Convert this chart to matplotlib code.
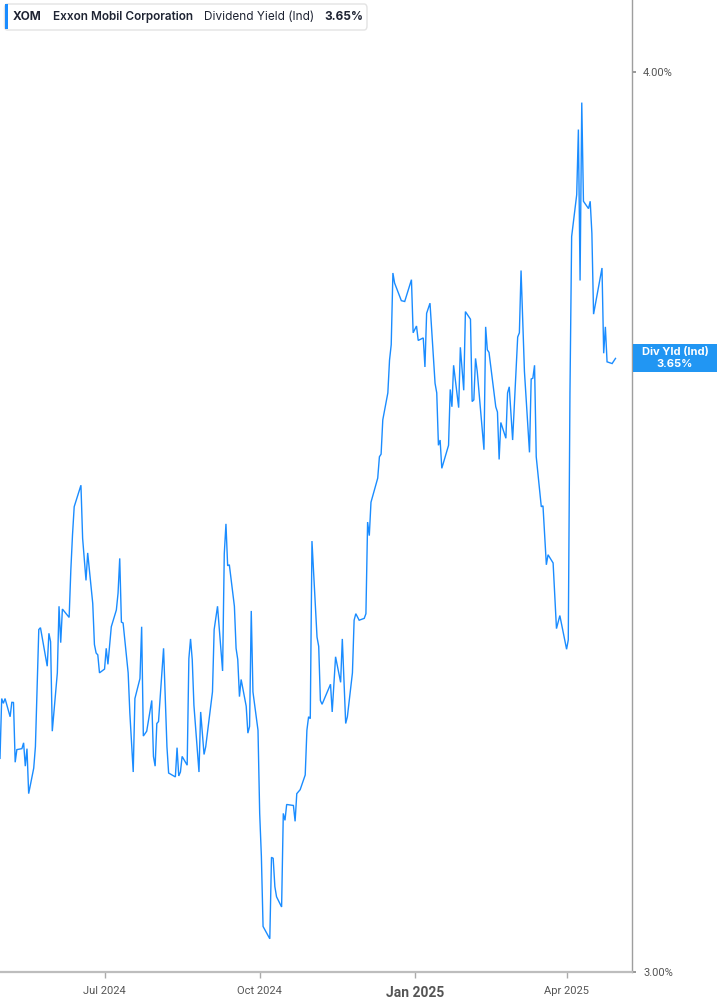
import matplotlib
matplotlib.use("Agg")
import matplotlib.pyplot as plt
from matplotlib.patches import Rectangle, FancyBboxPatch
from matplotlib.ticker import FixedLocator, FuncFormatter, NullLocator
from matplotlib.transforms import IdentityTransform
import pandas as pd

ticker = "XOM"
company = "Exxon Mobil Corporation"
metric = "Dividend Yield (Ind)"
metric_short = "Div Yld (Ind)"
last_value = 3.65

dates = [
    "2024-04-30", "2024-05-01", "2024-05-02", "2024-05-03", "2024-05-06", "2024-05-07", "2024-05-08",
    "2024-05-09", "2024-05-10", "2024-05-13", "2024-05-14", "2024-05-15", "2024-05-16", "2024-05-17",
    "2024-05-20", "2024-05-21", "2024-05-23", "2024-05-24", "2024-05-28", "2024-05-29", "2024-05-30",
    "2024-05-31", "2024-06-03", "2024-06-04", "2024-06-05", "2024-06-06", "2024-06-10", "2024-06-11",
    "2024-06-12", "2024-06-13", "2024-06-17", "2024-06-18", "2024-06-20", "2024-06-21", "2024-06-24",
    "2024-06-25", "2024-06-26", "2024-06-27", "2024-06-28", "2024-07-01", "2024-07-02", "2024-07-03",
    "2024-07-05", "2024-07-08", "2024-07-09", "2024-07-10", "2024-07-11", "2024-07-12", "2024-07-15",
    "2024-07-16", "2024-07-18", "2024-07-19", "2024-07-22", "2024-07-23", "2024-07-24", "2024-07-26",
    "2024-07-29", "2024-07-30", "2024-07-31", "2024-08-01", "2024-08-02", "2024-08-05", "2024-08-07",
    "2024-08-08", "2024-08-12", "2024-08-13", "2024-08-14", "2024-08-15", "2024-08-16", "2024-08-19",
    "2024-08-20", "2024-08-21", "2024-08-22", "2024-08-23", "2024-08-26", "2024-08-27", "2024-08-29",
    "2024-08-30", "2024-09-03", "2024-09-04", "2024-09-06", "2024-09-09", "2024-09-10", "2024-09-11",
    "2024-09-12", "2024-09-13", "2024-09-16", "2024-09-17", "2024-09-18", "2024-09-19", "2024-09-20",
    "2024-09-23", "2024-09-24", "2024-09-25", "2024-09-26", "2024-09-27", "2024-09-30", "2024-10-01",
    "2024-10-02", "2024-10-03", "2024-10-07", "2024-10-08", "2024-10-09", "2024-10-10", "2024-10-11",
    "2024-10-14", "2024-10-15", "2024-10-16", "2024-10-17", "2024-10-21", "2024-10-22", "2024-10-23",
    "2024-10-25", "2024-10-28", "2024-10-29", "2024-10-30", "2024-10-31", "2024-11-01", "2024-11-04",
    "2024-11-05", "2024-11-06", "2024-11-07", "2024-11-11", "2024-11-12", "2024-11-13", "2024-11-15",
    "2024-11-18", "2024-11-19", "2024-11-21", "2024-11-22", "2024-11-25", "2024-11-26", "2024-11-27",
    "2024-11-29", "2024-12-02", "2024-12-03", "2024-12-04", "2024-12-05", "2024-12-06", "2024-12-10",
    "2024-12-11", "2024-12-12", "2024-12-13", "2024-12-16", "2024-12-17", "2024-12-18", "2024-12-19",
    "2024-12-20", "2024-12-23", "2024-12-24", "2024-12-26", "2024-12-30", "2024-12-31", "2025-01-02",
    "2025-01-03", "2025-01-06", "2025-01-07", "2025-01-08", "2025-01-10", "2025-01-13", "2025-01-14",
    "2025-01-15", "2025-01-16", "2025-01-17", "2025-01-21", "2025-01-22", "2025-01-23", "2025-01-24",
    "2025-01-27", "2025-01-28", "2025-01-30", "2025-01-31", "2025-02-03", "2025-02-04", "2025-02-05",
    "2025-02-06", "2025-02-07", "2025-02-11", "2025-02-12", "2025-02-13", "2025-02-14", "2025-02-18",
    "2025-02-19", "2025-02-20", "2025-02-21", "2025-02-24", "2025-02-25", "2025-02-26", "2025-02-28",
    "2025-03-03", "2025-03-04", "2025-03-05", "2025-03-07", "2025-03-10", "2025-03-11", "2025-03-12",
    "2025-03-13", "2025-03-14", "2025-03-17", "2025-03-18", "2025-03-20", "2025-03-21", "2025-03-24",
    "2025-03-26", "2025-03-28", "2025-04-01", "2025-04-02", "2025-04-03", "2025-04-04", "2025-04-07",
    "2025-04-08", "2025-04-09", "2025-04-10", "2025-04-11", "2025-04-14", "2025-04-15", "2025-04-16",
    "2025-04-17", "2025-04-22", "2025-04-23", "2025-04-24", "2025-04-25", "2025-04-28", "2025-04-30",
]

yield_pct = [
    3.212, 3.274, 3.269, 3.274, 3.255, 3.270, 3.270,
    3.208, 3.221, 3.222, 3.228, 3.204, 3.222, 3.176,
    3.202, 3.224, 3.347, 3.349, 3.308, 3.343, 3.334,
    3.240, 3.301, 3.372, 3.333, 3.369, 3.360, 3.411,
    3.450, 3.481, 3.505, 3.446, 3.400, 3.430, 3.375,
    3.331, 3.322, 3.320, 3.301, 3.305, 3.327, 3.310,
    3.350, 3.368, 3.386, 3.424, 3.355, 3.354, 3.301,
    3.259, 3.198, 3.274, 3.295, 3.350, 3.235, 3.240,
    3.272, 3.214, 3.204, 3.248, 3.250, 3.327, 3.224,
    3.197, 3.193, 3.223, 3.194, 3.198, 3.214, 3.205,
    3.316, 3.337, 3.315, 3.267, 3.198, 3.260, 3.216,
    3.224, 3.281, 3.347, 3.372, 3.303, 3.429, 3.462,
    3.416, 3.417, 3.372, 3.327, 3.315, 3.276, 3.294,
    3.266, 3.238, 3.245, 3.367, 3.281, 3.241, 3.156,
    3.113, 3.044, 3.032, 3.112, 3.111, 3.083, 3.073,
    3.063, 3.156, 3.149, 3.165, 3.164, 3.148, 3.176,
    3.180, 3.195, 3.241, 3.255, 3.253, 3.443, 3.339,
    3.329, 3.272, 3.268, 3.285, 3.289, 3.260, 3.318,
    3.291, 3.337, 3.248, 3.255, 3.301, 3.357, 3.364,
    3.357, 3.359, 3.364, 3.464, 3.449, 3.486, 3.513,
    3.537, 3.540, 3.579, 3.610, 3.648, 3.666, 3.751,
    3.739, 3.723, 3.718, 3.717, 3.743, 3.680, 3.688,
    3.671, 3.674, 3.640, 3.703, 3.715, 3.621, 3.610,
    3.550, 3.556, 3.524, 3.550, 3.614, 3.594, 3.642,
    3.593, 3.663, 3.613, 3.705, 3.696, 3.600, 3.602,
    3.650, 3.635, 3.545, 3.687, 3.660, 3.657, 3.594,
    3.588, 3.534, 3.576, 3.558, 3.610, 3.617, 3.556,
    3.675, 3.680, 3.754, 3.635, 3.542, 3.626, 3.627,
    3.642, 3.537, 3.481, 3.482, 3.417, 3.428, 3.419,
    3.348, 3.362, 3.326, 3.336, 3.610, 3.795, 3.846,
    3.927, 3.742, 3.961, 3.838, 3.829, 3.838, 3.799,
    3.702, 3.757, 3.656, 3.687, 3.646, 3.644, 3.650,
]

y_ticks = [3.0, 4.0]
x_tick_dates = ["2024-07-01", "2024-10-01", "2025-01-01", "2025-04-01"]
x_tick_labels = ["Jul 2024", "Oct 2024", "Jan 2025", "Apr 2025"]

W, H = 717, 1005
LINE = "#1a8cff"
TEXT = "#1f2433"
fig = plt.figure(figsize=(W / 100, H / 100), dpi=100)
fig.patch.set_facecolor("white")
ax = fig.add_axes([0, 33 / H, 632 / W, 1 - 33 / H])

d = pd.to_datetime(dates)
ax.plot(d, yield_pct, color=LINE, lw=1.0, solid_joinstyle="miter")

ax.set_yscale("log")
ax.set_ylim(3.0, 4.093)
ax.set_xlim(pd.Timestamp("2024-04-30"), pd.Timestamp("2025-05-09 19:00"))

ax.yaxis.set_major_locator(FixedLocator(y_ticks))
ax.yaxis.set_minor_locator(NullLocator())
ax.yaxis.set_major_formatter(FuncFormatter(lambda v, p: f"{v:.2f}%"))
ax.yaxis.tick_right()
ax.tick_params(axis="y", which="major", length=3, width=1.2, color="#888888",
               labelcolor="#555555", labelsize=8, pad=5)
for lbl in ax.get_yticklabels():
    lbl.set_fontfamily("Roboto")

xt = pd.to_datetime(x_tick_dates)
ax.set_xticks(xt)
ax.set_xticklabels(x_tick_labels)
ax.tick_params(axis="x", length=4, width=1, color="#aaaaaa", labelcolor="#555555",
               labelsize=8, pad=6)
for lbl in ax.get_xticklabels():
    lbl.set_fontfamily("Roboto")
    if lbl.get_text().startswith("Jan"):
        lbl.set_fontweight("bold")
        lbl.set_fontsize(10)

for s in ("left", "top"):
    ax.spines[s].set_visible(False)
ax.spines["right"].set_color("#9e9e9e")
ax.spines["right"].set_linewidth(1.0)
ax.spines["bottom"].set_color("#bdbdbd")
ax.spines["bottom"].set_linewidth(1.6)
ax.patch.set_alpha(0)


def fx(px):
    return px / W


def fy(py):
    return 1 - py / H


# Header legend box (pixel positions measured from the top-left corner)
box = FancyBboxPatch((fx(4.5), fy(30)), fx(362.5), 26 / H,
                     boxstyle="round,pad=0,rounding_size=0.004",
                     transform=fig.transFigure, facecolor="white",
                     edgecolor="#e3e3e3", lw=1.0)
fig.patches.append(box)
bar = Rectangle((fx(4.5), fy(29.5)), 3 / W, 25 / H, transform=fig.transFigure,
                facecolor=LINE, edgecolor="none")
fig.patches.append(bar)

renderer = fig.canvas.get_renderer()
parts = [(ticker, "bold", 11), (company, "semibold", 11), (metric, "normal", 10),
         (f"{last_value:.2f}%", "bold", 0)]
x_px = 13
for txt, wt, gap in parts:
    t = fig.text(fx(x_px), fy(17), txt, fontsize=8.5, fontweight=wt, color=TEXT,
                 family="Inter", va="center", ha="left")
    w = t.get_window_extent(renderer).width
    x_px += w + gap

# Right value label box
yc = ax.transData.transform((ax.get_xlim()[0], last_value))[1]
x0 = ax.transAxes.transform((1, 0))[0] + 1
rect = Rectangle((x0, yc - 14), W - x0, 28, transform=IdentityTransform(),
                 facecolor="#2196f3", edgecolor="none")
fig.patches.append(rect)
xcen = (x0 + W) / 2
fig.text(xcen / W, (yc + 6) / H, metric_short, color="white", fontsize=8,
         fontweight="bold", family="Inter", ha="center", va="center")
fig.text(xcen / W, (yc - 6) / H, f"{last_value:.2f}%", color="white", fontsize=8,
         fontweight="bold", family="Inter", ha="center", va="center")

fig.savefig("out.png", dpi=100, facecolor="white")
